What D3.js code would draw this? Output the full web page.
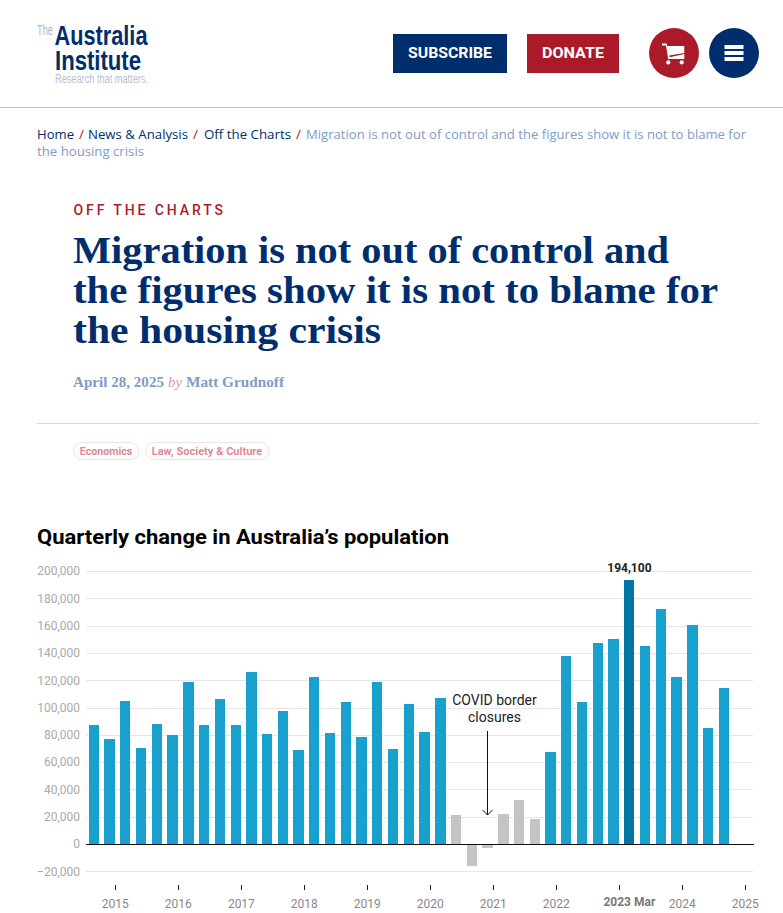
<!DOCTYPE html>
<html><head><meta charset="utf-8">
<script src="https://cdn.jsdelivr.net/npm/d3@7"></script>
<style>html,body{margin:0;padding:0;background:#fff;overflow:hidden}svg{display:block}</style>
</head><body><div id="chart"></div>
<script>
const chartTitle = "Quarterly change in Australia\u2019s population";
const quarters = ["2014-09","2014-12","2015-03","2015-06","2015-09","2015-12","2016-03","2016-06","2016-09","2016-12","2017-03","2017-06","2017-09","2017-12","2018-03","2018-06","2018-09","2018-12","2019-03","2019-06","2019-09","2019-12","2020-03","2020-06","2020-09","2020-12","2021-03","2021-06","2021-09","2021-12","2022-03","2022-06","2022-09","2022-12","2023-03","2023-06","2023-09","2023-12","2024-03","2024-06","2024-09"];
const populationChange = [87400,77200,105000,70600,88200,80100,118900,87400,106500,87400,126200,80800,97700,69100,122600,81600,104300,78600,118900,69800,102800,82300,107200,21500,-15900,-2700,22200,32500,18600,67600,138000,104300,147500,150400,194100,145300,172400,122600,160700,85200,114500];
const covidQuarters = ["2020-06","2020-09","2020-12","2021-03","2021-06","2021-09"];
const peakQuarter = "2023-03";
const yTicks = [-20000,0,20000,40000,60000,80000,100000,120000,140000,160000,180000,200000];
const xTickYears = [2015,2016,2017,2018,2019,2020,2021,2022,2023,2024,2025];
const crumbs = ["Home","News & Analysis","Off the Charts"];

const navy="#002e6d", red="#ab1a28", paleBlue="#7f9cc4";
const svg=d3.select("#chart").append("svg").attr("width",783).attr("height",913);
function T(s,x,y,o={}){const t=svg.append("text").attr("x",x).attr("y",y).text(s)
  .attr("font-family",o.f||"Roboto").attr("font-size",o.s||14).attr("fill",o.c||"#000")
  .attr("font-weight",o.w||400).attr("text-anchor",o.a||"start");
  if(o.l)t.attr("textLength",o.l).attr("lengthAdjust","spacingAndGlyphs");
  if(o.ls)t.attr("letter-spacing",o.ls); if(o.i)t.attr("font-style","italic"); return t;}

/* header */
const logoFont="Liberation Sans Narrow, Liberation Sans";
T("The",37,35,{f:logoFont,s:14,c:"#a9b6cf",l:16});
T("Australia",54.5,45,{f:logoFont,s:27,c:navy,w:700,l:93});
T("Institute",55,70,{f:logoFont,s:27,c:navy,w:700,l:86});
T("Research that matters.",55,83,{f:logoFont,s:12,c:"#b4bfd4",l:93});
svg.append("rect").attr("x",393).attr("y",34).attr("width",114).attr("height",39).attr("fill",navy);
svg.append("rect").attr("x",527).attr("y",34).attr("width",92).attr("height",39).attr("fill",red);
T("SUBSCRIBE",450,58,{s:14.5,c:"#fff",w:700,a:"middle",l:84});
T("DONATE",573,58,{s:14.5,c:"#fff",w:700,a:"middle",l:62});
svg.append("circle").attr("cx",674).attr("cy",53).attr("r",25).attr("fill",red);
svg.append("circle").attr("cx",734).attr("cy",53).attr("r",25).attr("fill",navy);
svg.append("path").attr("fill","#fff").attr("d","M662 43.5h4.6l.6 2.5H684.3v7L669.4 55.6l.3 1.7L684.3 54v5H668.2L666 45.5H662z");
svg.append("circle").attr("cx",668.3).attr("cy",62.4).attr("r",2.1).attr("fill","#fff");
svg.append("circle").attr("cx",681.7).attr("cy",62.4).attr("r",2.1).attr("fill","#fff");
[45,51,57].forEach(y=>svg.append("rect").attr("x",724.5).attr("y",y).attr("width",19).attr("height",4).attr("rx",.5).attr("fill","#fff"));
svg.append("line").attr("x1",0).attr("x2",783).attr("y1",107.5).attr("y2",107.5).attr("stroke","#b9c0cc");

/* breadcrumb */
const crumbFont="Open Sans";
const cx=[37,88,204], cl=[37,100,87], sx=[79,193,296];
crumbs.forEach((c,i)=>{T(c,cx[i],139,{f:crumbFont,s:13.5,c:navy,l:cl[i]});T("/",sx[i],139,{f:crumbFont,s:13.5,c:red});});
T("Migration is not out of control and the figures show it is not to blame for",306,139,{f:crumbFont,s:13.5,c:paleBlue,l:440});
T("the housing crisis",37,156,{f:crumbFont,s:13.5,c:paleBlue,l:107});

/* headline */
T("OFF THE CHARTS",73.5,215,{s:14,c:red,w:500,ls:2.9});
const hf="Liberation Serif";
T("Migration is not out of control and",73,263,{f:hf,s:38,c:navy,w:700,l:596});
T("the figures show it is not to blame for",73,303,{f:hf,s:38,c:navy,w:700,l:645});
T("the housing crisis",73,343,{f:hf,s:38,c:navy,w:700,l:308});
T("April 28, 2025",73,387,{f:hf,s:15,c:paleBlue,w:700,l:91});
T("by",168,387,{f:hf,s:15,c:"#dd9aa2",i:1});
T("Matt Grudnoff",186,387,{f:hf,s:15,c:paleBlue,w:700,l:98});
svg.append("line").attr("x1",37).attr("x2",759).attr("y1",423.5).attr("y2",423.5).attr("stroke","#d2d9e3");
[[73,65.5,"Economics"],[145,123.5,"Law, Society & Culture"]].forEach(([x,w,s])=>{
  svg.append("rect").attr("x",x+.5).attr("y",442.5).attr("width",w).attr("height",17).attr("rx",8.5).attr("fill","#fff").attr("stroke","#f7dfe2");
  T(s,x+w/2+.25,455,{s:11,c:"#dc8a93",w:700,a:"middle",l:w-13});
});

/* chart */
T(chartTitle,37,544,{s:21,w:700,c:"#000",l:412});
const parse=d3.utcParse("%Y-%m");
const x=d3.scaleUtc().domain([new Date(Date.UTC(2015,0,1)),new Date(Date.UTC(2025,0,1))]).range([115.3,745.3]);
const y=d3.scaleLinear().domain([-20000,200000]).range([871.85,571.55]);
const L=86,R=753;
const gy=svg.append("g").attr("transform",`translate(${L},0)`)
  .call(d3.axisLeft(y).offset(0).tickValues(yTicks).tickFormat(d3.format(",")).tickSize(0).tickPadding(6));
gy.select(".domain").remove();
gy.selectAll("text").attr("font-family","Roboto").attr("font-size",12).attr("fill","#a9a9a9");
gy.selectAll("g.tick").append("line").attr("x1",0).attr("x2",R-L).attr("stroke",d=>d===0?"none":"#e6e6e6").attr("shape-rendering","crispEdges");
const data=quarters.map((q,i)=>({q,d:parse(q),v:populationChange[i]}));
const bw=10.5, barShift=-0.25;
svg.append("g").attr("shape-rendering","crispEdges").selectAll("rect").data(data).join("rect")
  .attr("x",d=>x(d.d)-bw/2+barShift).attr("width",bw)
  .attr("y",d=>y(Math.max(0,d.v))).attr("height",d=>Math.abs(y(d.v)-y(0)))
  .attr("fill",d=>d.q===peakQuarter?"#0077a3":covidQuarters.includes(d.q)?"#c4c4c4":"#18a1cd");
svg.append("line").attr("x1",L).attr("x2",R+1).attr("y1",y(0)).attr("y2",y(0)).attr("stroke","#111").attr("stroke-width",1).attr("shape-rendering","crispEdges");
const gx=svg.append("g").attr("transform","translate(0,885)")
  .call(d3.axisBottom(x).offset(0).tickValues(xTickYears.map(v=>new Date(Date.UTC(v,0,1)))).tickFormat(d=>{const yr=d.getUTCFullYear();return yr===2023?"":yr;}).tickSize(5).tickPadding(9));
gx.select(".domain").remove();
gx.selectAll("line").attr("stroke","#222").attr("shape-rendering","crispEdges");
gx.selectAll("text").attr("font-family","Roboto").attr("font-size",12).attr("fill","#888");
const peak=data.find(d=>d.q===peakQuarter);
T("2023 Mar",x(peak.d),905.5,{s:12,w:700,c:"#777",a:"middle"});
T(d3.format(",")(peak.v),x(peak.d),572,{s:12,w:700,c:"#222",a:"middle"});
T("COVID border",494.5,705,{s:14,c:"#222",a:"middle"});
T("closures",494.5,722,{s:14,c:"#222",a:"middle"});
svg.append("path").attr("d","M487.5 731V815M482.5 810L487.5 815L492.5 810").attr("fill","none").attr("stroke","#111").attr("stroke-width",1);
</script></body></html>
